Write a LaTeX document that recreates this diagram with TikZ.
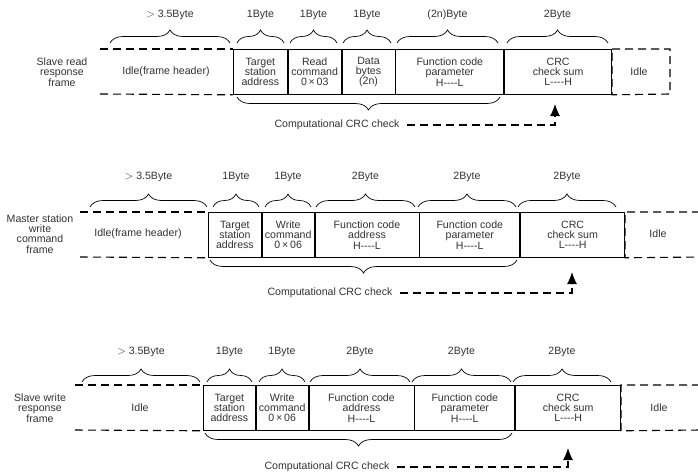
\documentclass[tikz,border=0pt]{standalone}
\usepackage{fontspec}
\setmainfont{Liberation Sans}
\usetikzlibrary{decorations.pathreplacing,arrows.meta}
\definecolor{txt}{RGB}{50,50,50}
\newcommand{\topbrc}[5]{\draw[topbrace] (#1,#3) -- (#2,#3); \node[lbl] at ({(#1+#2)/2},#5) {#4};}
\newcommand{\crcarr}[2]{\draw[dline] ([xshift=7pt]#1.east) -| ([yshift=-11pt]#2); \draw[tipline] ([yshift=-12pt]#2) -- (#2);}
\newcommand{\HL}{H-{}-{}-{}-L}
\newcommand{\LH}{L-{}-{}-{}-H}
\newcommand{\gtb}{$>$\ 3.5Byte}
\begin{document}
\begin{tikzpicture}[x=1pt,y=-1pt,
  every node/.style={font=\fontsize{10.6}{10.3}\selectfont, text=txt, inner sep=0pt, align=center},
  lbl/.style={},
  cell/.style={draw=black, line width=0.8pt, minimum height=45pt, anchor=north west},
  dline/.style={draw=black, line width=1.1pt, dash pattern=on 8pt off 5pt},
  topbrace/.style={decorate, decoration={brace, amplitude=13pt}, line width=0.7pt},
  botbrace/.style={decorate, decoration={brace, amplitude=13pt, mirror}, line width=0.7pt},
  tipline/.style={draw=black, line width=1.1pt, -{Latex[length=12pt,width=10pt]}}]
\useasboundingbox (0,0) rectangle (698,472);

% ---------- Frame 1 ----------
\node (l1) at (62,72) {Slave read\\response\\frame};
\node[cell, minimum width=54pt] (a1) at (233,49) {Target\\station\\address};
\node[cell, minimum width=53pt] (a2) at (a1.north east) {Read\\command\\0\,×\,03};
\node[cell, minimum width=53pt] (a3) at (a2.north east) {Data\\bytes\\(2n)};
\node[cell, minimum width=108pt] (a4) at (a3.north east) {Function code\\parameter\\\HL};
\node[cell, minimum width=107pt] (a5) at (a4.north east) {CRC\\check sum\\\LH};
\coordinate (a0t) at (100,49); \coordinate (a0b) at (100,94);
\draw[dline] (a0t) -- (a1.north west);
\draw[dline] (a0b) -- (a1.south west);
\node (a0) at (166,72) {Idle(frame header)};
\coordinate (a6t) at (670,49); \coordinate (a6b) at (670,94);
\draw[dline] (a5.north east) -- (a6t) -- (a6b) -- (a5.south east) -- cycle;
\node (a6) at (639,72) {Idle};
\topbrc{110}{230}{43}{\gtb}{15}
\topbrc{237}{284}{43}{1Byte}{15}
\topbrc{290}{337}{43}{1Byte}{15}
\topbrc{343}{391}{43}{1Byte}{15}
\topbrc{397}{498}{43}{(2n)Byte}{15}
\topbrc{507}{608}{43}{2Byte}{15}
\draw[botbrace] (237,97) -- (500,97);
\node (c1) at (337,125) {Computational CRC check};
\coordinate (c1t) at (555,104);
\crcarr{c1}{c1t}

% ---------- Frame 2 ----------
\node (l2) at (40,234) {Master station\\write\\command\\frame};
\node[cell, minimum width=53pt] (b1) at (208,212) {Target\\station\\address};
\node[cell, minimum width=52pt] (b2) at (b1.north east) {Write\\command\\0\,×\,06};
\node[cell, minimum width=104pt] (b3) at (b2.north east) {Function code\\address\\\HL};
\node[cell, minimum width=100pt] (b4) at (b3.north east) {Function code\\parameter\\\HL};
\node[cell, minimum width=104pt] (b5) at (b4.north east) {CRC\\check sum\\\LH};
\coordinate (b0t) at (80,212); \coordinate (b0b) at (80,257);
\draw[dline] (b0t) -- (b1.north west);
\draw[dline] (b0b) -- (b1.south west);
\node (b0) at (138,234) {Idle(frame header)};
\coordinate (b6t) at (700,212); \coordinate (b6b) at (700,257);
\draw[dline] (b6t) -- (b5.north east) -- (b5.south east) -- (b6b);
\node (b6) at (658,234) {Idle};
\topbrc{90}{207}{207}{\gtb}{177}
\topbrc{213}{259}{207}{1Byte}{177}
\topbrc{265}{311}{207}{1Byte}{177}
\topbrc{316}{415}{207}{2Byte}{177}
\topbrc{418}{516}{207}{2Byte}{177}
\topbrc{518}{616}{207}{2Byte}{177}
\draw[botbrace] (210,260) -- (517,260);
\node (c2) at (330,293) {Computational CRC check};
\coordinate (c2t) at (572,272);
\crcarr{c2}{c2t}

% ---------- Frame 3 ----------
\node (l3) at (40,408) {Slave write\\response\\frame};
\node[cell, minimum width=52pt] (d1) at (203,385) {Target\\station\\address};
\node[cell, minimum width=52pt] (d2) at (d1.north east) {Write\\command\\0\,×\,06};
\node[cell, minimum width=105pt] (d3) at (d2.north east) {Function code\\address\\\HL};
\node[cell, minimum width=100pt] (d4) at (d3.north east) {Function code\\parameter\\\HL};
\node[cell, minimum width=105pt] (d5) at (d4.north east) {CRC\\check sum\\\LH};
\coordinate (d0t) at (75,385); \coordinate (d0b) at (75,430);
\draw[dline] (d0t) -- (d1.north west);
\draw[dline] (d0b) -- (d1.south west);
\node (d0) at (140,408) {Idle};
\coordinate (d6t) at (700,385); \coordinate (d6b) at (700,430);
\draw[dline] (d6t) -- (d5.north east) -- (d5.south east) -- (d6b);
\node (d6) at (659,408) {Idle};
\topbrc{82}{200}{382}{\gtb}{352}
\topbrc{207}{252}{382}{1Byte}{352}
\topbrc{259}{305}{382}{1Byte}{352}
\topbrc{310}{410}{382}{2Byte}{352}
\topbrc{412}{511}{382}{2Byte}{352}
\topbrc{513}{611}{382}{2Byte}{352}
\draw[botbrace] (205,433) -- (512,433);
\node (c3) at (327,467) {Computational CRC check};
\coordinate (c3t) at (568,448);
\crcarr{c3}{c3t}
\end{tikzpicture}
\end{document}
